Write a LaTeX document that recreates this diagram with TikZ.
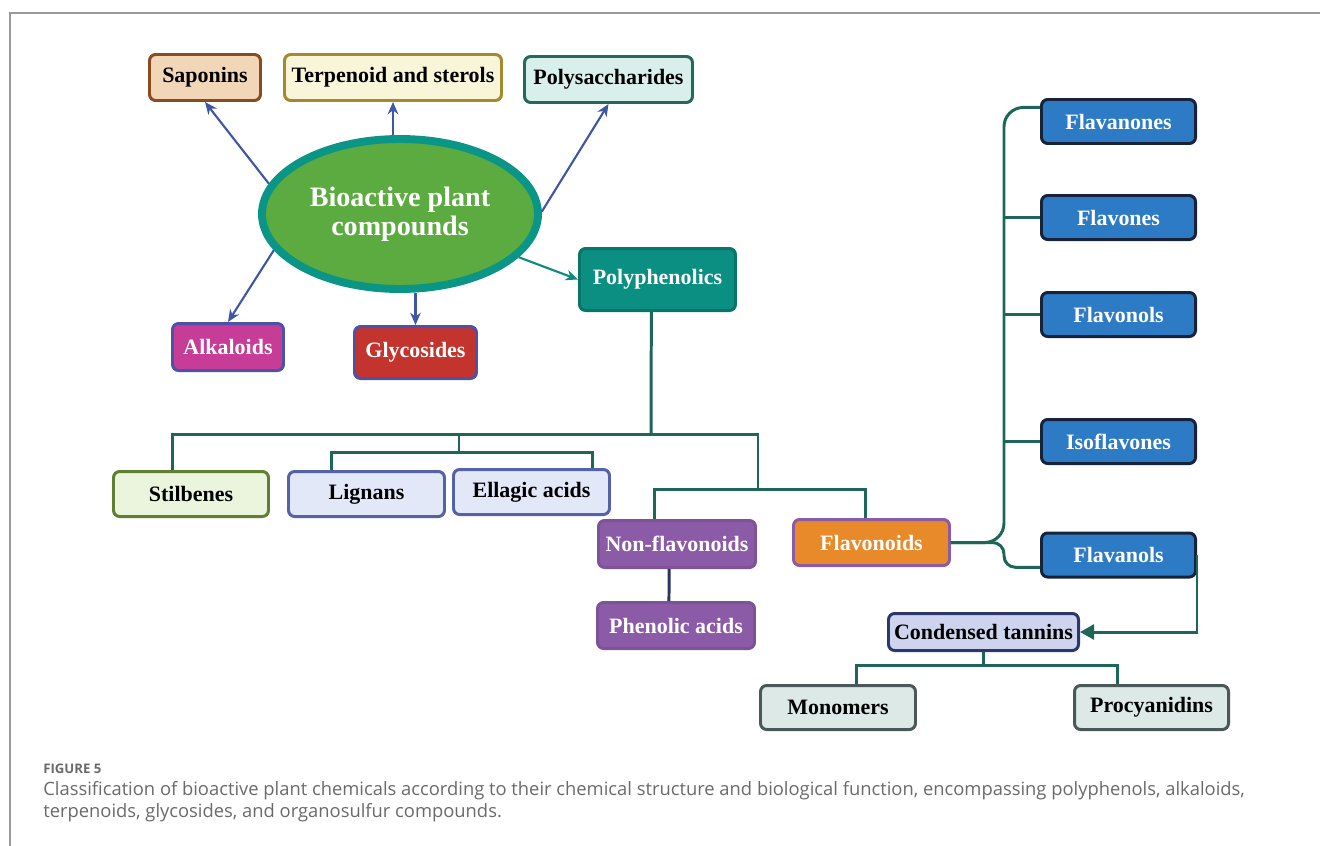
\documentclass[tikz,border=0pt]{standalone}
\usepackage{fontspec}
\setmainfont{Liberation Serif}
\newfontfamily\capfont{Open Sans}
\usepackage{tikz}
\usetikzlibrary{arrows.meta, shapes.geometric, positioning, calc}

\definecolor{framegray}{HTML}{9A9A9A}
\definecolor{capgray}{HTML}{6A6A6A}
\definecolor{arrblue}{HTML}{3F55A5}
\definecolor{treegreen}{HTML}{1E6658}
\definecolor{biogreen}{HTML}{5BAB40}
\definecolor{bioring}{HTML}{0A9587}
\definecolor{sapofill}{HTML}{F2D6B8}
\definecolor{sapoline}{HTML}{8A4B1E}
\definecolor{terpfill}{HTML}{F8F5D9}
\definecolor{terpline}{HTML}{A48A2F}
\definecolor{polyfill}{HTML}{D9EFEB}
\definecolor{polyline}{HTML}{24695B}
\definecolor{phenfill}{HTML}{0B8F82}
\definecolor{phenline}{HTML}{087567}
\definecolor{alkfill}{HTML}{C63C96}
\definecolor{glyfill}{HTML}{C2342D}
\definecolor{indigo}{HTML}{4B52A8}
\definecolor{stilfill}{HTML}{EBF5DD}
\definecolor{stilline}{HTML}{5F8030}
\definecolor{lavfill}{HTML}{E3E8F8}
\definecolor{lavline}{HTML}{5561A8}
\definecolor{purp}{HTML}{8B5BA8}
\definecolor{orng}{HTML}{E88A2A}
\definecolor{flblue}{HTML}{2E7BC5}
\definecolor{flline}{HTML}{16233A}
\definecolor{tanfill}{HTML}{CED4EE}
\definecolor{tanline}{HTML}{2B3870}
\definecolor{monofill}{HTML}{DDE9E6}
\definecolor{monoline}{HTML}{4A5957}
\definecolor{navy}{HTML}{2A3560}

\begin{document}
\begin{tikzpicture}[
    x=0.02cm, y=-0.02cm,
    every node/.style={font=\fontsize{12.5}{15}\selectfont\bfseries},
    wh/.style 2 args={minimum width=#1*0.02cm, minimum height=#2*0.02cm},
    box/.style={draw, rounded corners=3.5pt, line width=1.7pt, inner sep=0pt, align=center},
    sapobox/.style={box, fill=sapofill, draw=sapoline},
    terpbox/.style={box, fill=terpfill, draw=terpline},
    polybox/.style={box, fill=polyfill, draw=polyline},
    phenbox/.style={box, fill=phenfill, draw=phenline, text=white},
    alkbox/.style={box, fill=alkfill, draw=indigo, text=white},
    glybox/.style={box, fill=glyfill, draw=indigo, text=white},
    stilbox/.style={box, fill=stilfill, draw=stilline},
    lavbox/.style={box, fill=lavfill, draw=lavline},
    purpbox/.style={box, fill=purp, draw=purp!90!black, text=white},
    flavbox/.style={box, fill=orng, draw=purp, text=white},
    bluebox/.style={box, fill=flblue, draw=flline, text=white},
    tanbox/.style={box, fill=tanfill, draw=tanline},
    monobox/.style={box, fill=monofill, draw=monoline},
    arr/.style={-{Stealth[length=7pt, width=6pt]}, line width=1.2pt, arrblue},
    tree/.style={line width=1.7pt, treegreen},
]
    \useasboundingbox (0,0) rectangle (1320,846);

    % --- frame ---
    \draw[framegray, line width=0.8pt] (10,846) -- (10,13) -- (1320,13);

    % --- centre ---
    \node[ellipse, draw=bioring, fill=biogreen, line width=4.5pt, wh={276}{150},
          text=white, align=center, font=\fontsize{16}{16.5}\selectfont\bfseries]
          (bio) at (400,214) {Bioactive plant\\compounds};

    % --- top and side classes ---
    \node[sapobox, wh={111}{46}] (sapo) at (205,77.5) {Saponins};
    \node[terpbox, wh={217}{46}] (terp) at (393,77.5) {Terpenoid and sterols};
    \node[polybox, wh={168}{46}] (polys) at (608.5,79.5) {Polysaccharides};
    \node[alkbox, wh={111}{47}] (alk) at (228,347) {Alkaloids};
    \node[glybox, wh={122}{52}] (gly) at (415.5,352.5) {Glycosides};
    \node[phenbox, wh={156}{62}] (pphen) at (657.5,279.5) {Polyphenolics};

    \draw[arr] (bio.167) -- (sapo.south);
    \draw[arr] (bio.north -| terp.south) -- (terp.south);
    \draw[arr] (bio.1) -- (polys.south);
    \draw[arr] (bio.196) -- (alk.north);
    \draw[arr] (bio.south -| gly.north) -- (gly.north);
    \draw[-{Stealth[length=7pt, width=6pt]}, line width=1.2pt, bioring!80!treegreen] (bio.340) -- (pphen.west);

    % --- polyphenolics subtree ---
    \node[stilbox, wh={155}{45}] (stil) at (191,494) {Stilbenes};
    \node[lavbox, wh={156}{45}] (lign) at (366.5,494) {Lignans};
    \node[lavbox, wh={156}{45}] (ellag) at (531.5,492) {Ellagic acids};
    \node[purpbox, wh={157}{47}] (nonfl) at (677,544) {Non-flavonoids};
    \node[purpbox, wh={157}{46}] (phac) at (676,625.5) {Phenolic acids};
    \node[flavbox, wh={156}{46}] (flav) at (871.5,542.5) {Flavonoids};

    \coordinate (busA) at (651,434);
    \coordinate (busB) at (758,489);
    \coordinate (busL) at (459,452);
    \draw[tree] ([xshift=-3.5pt]pphen.south) -- (busA);
    \draw[tree] ([xshift=-10.8pt]stil.north) |- (busA) -| (busB);
    \draw[tree] (busL) -- (busL |- busA);
    \draw[tree] ([xshift=25.5pt]lign.north west) |- (busL) -| ([xshift=-10.8pt]ellag.north east);
    \draw[tree] ([xshift=-13pt]nonfl.north) |- (busB) -| ([xshift=-3.5pt]flav.north);
    \draw[line width=1.7pt, navy] ([xshift=-4.5pt]nonfl.south) -- ([xshift=-4pt]phac.north);

    % --- flavonoid classes ---
    \foreach \nm/\yy/\txt in {flanone/121.5/Flavanones, flavone/217.5/Flavones,
        flavonol/314.5/Flavonols, isoflav/441.5/Isoflavones, flanol/555/Flavanols} {
        \node[bluebox, wh={154}{44}] (\nm) at (1118.5,\yy) {\txt};
    }
    \coordinate (spine) at (1004,0);
    \coordinate (toptip) at ([yshift=8pt]flanone.west);
    \coordinate (lowtip) at ([yshift=-7pt]flanol.west);
    \draw[tree, rounded corners=11pt] (flav.east) -| (spine |- toptip) -- (toptip);
    \draw[tree, rounded corners=6.5pt] (flav.east) -| (spine |- lowtip) -- (lowtip);
    \foreach \nm in {flavone, flavonol, isoflav}
        \draw[tree] (\nm.west) -- (\nm.west -| spine);

    % --- tannins ---
    \node[tanbox, wh={190}{37}] (ctan) at (983.5,632) {Condensed tannins};
    \node[monobox, wh={155}{44}] (mono) at (838,707.5) {Monomers};
    \node[monobox, wh={154}{44}] (procy) at (1151.5,707.5) {Procyanidins};

    \draw[tree, -{Triangle[length=8pt, width=8.5pt]}] (flanol.east) |- (ctan.east);
    \coordinate (busC) at (985,665);
    \draw[tree] (ctan.south) -- (ctan.south |- busC);
    \draw[tree] ([xshift=10.8pt]mono.north) |- (busC) -| ([xshift=-19.6pt]procy.north);

    % --- caption ---
    \node[anchor=base west, inner sep=0pt, text=capgray, font=\capfont\fontsize{7.5}{9}\selectfont\bfseries]
        (figlbl) at (43,773) {FIGURE 5};
    \node[anchor=north west, inner sep=0pt, text=capgray, align=left,
          font=\capfont\fontsize{10.45}{12.6}\selectfont]
        (capt) at (43,781) {Classification of bioactive plant chemicals according to their chemical structure and biological function, encompassing polyphenols, alkaloids,\\
        terpenoids, glycosides, and organosulfur compounds.};
\end{tikzpicture}
\end{document}
